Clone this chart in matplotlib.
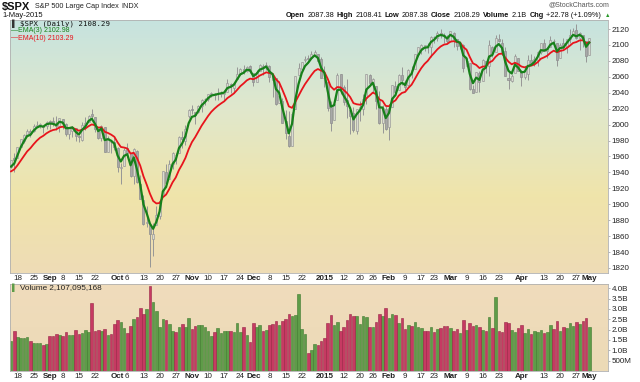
import numpy as np
import pandas as pd
import matplotlib
matplotlib.use("Agg")
import matplotlib.pyplot as plt
from matplotlib.colors import LinearSegmentedColormap

# closes before the window, only used to seed the moving averages
warmup_close = [1978.91, 1969.95, 1970.07, 1930.67, 1925.15, 1938.99, 1920.21,
                1920.24, 1909.57, 1931.59, 1936.92, 1933.75, 1946.72]

holidays = ["2014-09-01", "2014-11-27", "2014-12-25", "2015-01-01",
            "2015-01-19", "2015-02-16", "2015-04-03"]

price_open = [
    1947, 1958, 1958, 1972, 1980, 1986, 1992, 1992, 1998, 2000, 1998, 1998,
    2004, 2004, 2001, 1998, 2007, 2001, 1988, 1992, 1996, 1986, 1981, 1999,
    2003, 2013, 2009, 1993, 1983, 1997, 1966, 1978, 1978, 1971, 1945, 1948,
    1970, 1964, 1935, 1967, 1926, 1905, 1877, 1874, 1856, 1874, 1885, 1910,
    1941, 1932, 1951, 1962, 1964, 1984, 1979, 2011, 2019, 2016, 2016, 2023,
    2032, 2032, 2039, 2037, 2040, 2039, 2039, 2041, 2051, 2046, 2057, 2065,
    2070, 2067, 2073, 2065, 2054, 2067, 2074, 2072, 2074, 2056, 2058, 2027,
    2030, 2005, 1986, 1973, 2019, 2062, 2070, 2081, 2083, 2084, 2087, 2088,
    2082, 2059, 2054, 2022, 2006, 2031, 2063, 2047, 2031, 2018, 2014, 1992,
    2021, 2020, 2034, 2062, 2051, 2048, 2032, 2002, 2019, 1997, 2022, 2048,
    2043, 2062, 2053, 2050, 2068, 2070, 2089, 2096, 2099, 2098, 2097, 2110,
    2109, 2115, 2113, 2110, 2105, 2115, 2107, 2099, 2100, 2073, 2077, 2045,
    2041, 2065, 2055, 2080, 2073, 2098, 2091, 2108, 2103, 2093, 2059, 2055,
    2065, 2084, 2067, 2060, 2064, 2081, 2077, 2081, 2091, 2102, 2092, 2097,
    2105, 2102, 2084, 2102, 2098, 2108, 2113, 2119, 2109, 2113, 2105, 2087.38]
price_high = [
    1955, 1964, 1972, 1982, 1988, 1994, 1994, 2001, 2005, 2002, 1998, 2004,
    2006, 2009, 2011, 2008, 2007, 2002, 1996, 1998, 1996, 1987, 2003, 2010,
    2012, 2019, 2009, 1995, 1999, 1997, 1986, 1981, 1985, 1972, 1952, 1971,
    1977, 1964, 1970, 1968, 1937, 1912, 1898, 1874, 1876, 1898, 1905, 1942,
    1950, 1956, 1965, 1964, 1986, 1992, 1999, 2019, 2025, 2016, 2024, 2032,
    2034, 2038, 2041, 2040, 2046, 2042, 2043, 2057, 2052, 2053, 2072, 2071,
    2075, 2073, 2075, 2065, 2068, 2076, 2076, 2078, 2075, 2060, 2058, 2055,
    2034, 2018, 2017, 2016, 2061, 2077, 2078, 2086, 2087, 2093, 2094, 2088,
    2085, 2073, 2054, 2030, 2030, 2065, 2064, 2050, 2057, 2018, 2022, 2020,
    2029, 2038, 2064, 2063, 2058, 2048, 2042, 2024, 2023, 2023, 2050, 2055,
    2063, 2072, 2056, 2070, 2073, 2089, 2097, 2101, 2100, 2102, 2111, 2111,
    2117, 2120, 2115, 2112, 2118, 2116, 2107, 2104, 2101, 2083, 2077, 2050,
    2066, 2067, 2082, 2080, 2106, 2099, 2113, 2114, 2108, 2097, 2067, 2063,
    2088, 2084, 2068, 2072, 2087, 2089, 2086, 2093, 2102, 2108, 2098, 2111,
    2107, 2102, 2103, 2109, 2108, 2120, 2121, 2126, 2116, 2113, 2105, 2108.41]
price_low = [
    1945, 1941, 1958, 1972, 1977, 1986, 1985, 1991, 1998, 1996, 1990, 1994,
    1995, 1998, 1993, 1991, 1995, 1986, 1982, 1985, 1980, 1978, 1979, 1993,
    2003, 2007, 1991, 1982, 1979, 1966, 1966, 1964, 1968, 1941, 1926, 1948,
    1959, 1934, 1926, 1927, 1906, 1874, 1871, 1821, 1835, 1874, 1882, 1910,
    1927, 1932, 1944, 1951, 1964, 1971, 1974, 2008, 2013, 2001, 2014, 2016,
    2025, 2030, 2035, 2031, 2031, 2035, 2030, 2041, 2040, 2040, 2057, 2065,
    2064, 2066, 2065, 2049, 2054, 2067, 2062, 2069, 2054, 2035, 2024, 2027,
    2002, 1982, 1972, 1973, 2019, 2062, 2070, 2079, 2081, 2084, 2086, 2079,
    2058, 2047, 2017, 1992, 2006, 2031, 2038, 2024, 2008, 1988, 1991, 1988,
    2004, 2012, 2026, 2051, 2041, 2020, 2001, 1990, 1993, 1981, 2022, 2040,
    2043, 2050, 2044, 2048, 2058, 2070, 2086, 2089, 2093, 2090, 2085, 2102,
    2105, 2109, 2103, 2103, 2104, 2098, 2094, 2095, 2066, 2072, 2044, 2040,
    2041, 2041, 2055, 2065, 2061, 2085, 2091, 2104, 2091, 2061, 2045, 2053,
    2065, 2067, 2048, 2057, 2056, 2076, 2074, 2074, 2089, 2092, 2084, 2097,
    2101, 2073, 2084, 2095, 2090, 2103, 2112, 2107, 2094, 2098, 2078, 2087.38]
price_close = [
    1955.18, 1955.06, 1971.74, 1981.60, 1986.51, 1992.37, 1988.40, 1997.92,
    2000.02, 2000.12, 1996.74, 2003.37, 2002.28, 2000.72, 1997.65, 2007.71,
    2001.54, 1988.44, 1995.69, 1997.45, 1985.54, 1984.13, 1998.98, 2001.57,
    2011.36, 2010.40, 1994.29, 1982.77, 1998.30, 1965.99, 1982.85, 1977.80,
    1972.29, 1946.16, 1946.17, 1967.90, 1964.82, 1935.10, 1968.89, 1928.21,
    1906.13, 1874.74, 1877.70, 1862.49, 1862.76, 1886.76, 1904.01, 1941.28,
    1927.11, 1950.82, 1964.58, 1961.63, 1985.05, 1982.30, 1994.65, 2018.05,
    2017.81, 2012.10, 2023.57, 2031.21, 2031.92, 2038.26, 2039.68, 2038.25,
    2039.33, 2039.82, 2041.32, 2051.80, 2048.72, 2052.75, 2063.50, 2069.41,
    2067.03, 2072.83, 2067.56, 2053.44, 2066.55, 2074.33, 2071.92, 2075.37,
    2060.31, 2059.82, 2026.14, 2035.33, 2002.33, 1989.63, 1972.74, 2012.89,
    2061.23, 2070.65, 2078.54, 2082.17, 2081.88, 2088.77, 2090.57, 2080.35,
    2058.90, 2058.20, 2020.58, 2002.61, 2025.90, 2062.14, 2044.81, 2028.26,
    2023.03, 2011.27, 1992.67, 2019.42, 2022.55, 2032.12, 2063.15, 2051.82,
    2057.09, 2029.55, 2002.16, 2021.25, 1994.99, 2020.85, 2050.03, 2041.51,
    2062.52, 2055.47, 2046.74, 2068.59, 2068.53, 2088.48, 2096.99, 2100.34,
    2099.68, 2097.45, 2110.30, 2109.66, 2115.48, 2113.86, 2110.74, 2104.50,
    2117.39, 2107.78, 2098.53, 2101.04, 2071.26, 2079.43, 2044.16, 2040.24,
    2065.95, 2053.40, 2081.19, 2074.28, 2099.50, 2089.27, 2108.10, 2104.42,
    2091.50, 2061.05, 2056.15, 2061.02, 2086.24, 2067.89, 2059.69, 2066.96,
    2080.62, 2076.33, 2081.90, 2091.18, 2102.06, 2092.43, 2095.84, 2106.63,
    2104.99, 2081.18, 2100.40, 2097.29, 2107.96, 2112.93, 2117.69, 2108.92,
    2114.76, 2106.85, 2085.51, 2108.29]

# volume in billions of shares
volume_b = [
    1.47, 1.95, 1.66, 1.58, 1.58, 1.66, 1.47, 1.34, 1.37, 1.37, 1.26, 1.32,
    1.69, 1.69, 1.81, 1.76, 1.71, 1.90, 1.74, 1.73, 2.00, 1.77, 1.84, 2.00,
    1.90, 3.27, 1.95, 2.00, 1.95, 2.03, 1.76, 1.79, 2.29, 2.45, 2.35, 2.06,
    1.85, 2.16, 2.50, 2.60, 3.03, 2.74, 3.00, 4.10, 3.33, 2.92, 2.11, 2.50,
    2.44, 2.26, 1.95, 1.87, 2.13, 2.26, 2.11, 2.55, 2.02, 2.16, 2.21, 2.21,
    2.13, 1.92, 1.68, 1.87, 2.06, 1.82, 1.95, 1.92, 1.95, 1.87, 2.32, 1.87,
    2.11, 1.76, 1.42, 2.32, 2.11, 2.23, 1.94, 2.00, 2.21, 2.29, 2.40, 2.21,
    2.40, 2.50, 2.73, 2.66, 2.69, 3.71, 2.02, 1.79, 0.87, 1.00, 1.32, 1.26,
    1.44, 1.58, 2.32, 2.69, 2.23, 2.35, 1.95, 2.11, 2.48, 2.76, 2.66, 2.66,
    2.27, 2.66, 2.60, 2.14, 2.14, 2.35, 2.73, 2.65, 3.03, 2.56, 2.73, 2.68,
    2.31, 2.55, 2.03, 2.24, 2.16, 2.35, 2.11, 2.06, 1.95, 1.95, 2.13, 1.87,
    2.03, 2.06, 2.16, 2.16, 2.06, 1.95, 2.02, 1.84, 2.48, 2.00, 2.31, 2.19,
    2.23, 2.13, 2.00, 1.92, 2.60, 2.06, 3.56, 1.95, 1.90, 2.35, 2.31, 1.97,
    1.87, 2.06, 2.23, 1.84, 2.03, 1.77, 1.92, 1.87, 2.00, 1.82, 1.87, 2.23,
    2.02, 2.39, 1.95, 2.11, 2.06, 2.32, 2.16, 2.35, 2.26, 2.40, 2.58, 2.11]

tick_dates = ["2014-08-18", "2014-08-25", "2014-09-02", "2014-09-08", "2014-09-15",
              "2014-09-22", "2014-10-01", "2014-10-06", "2014-10-13", "2014-10-20",
              "2014-10-27", "2014-11-03", "2014-11-10", "2014-11-17", "2014-11-24",
              "2014-12-01", "2014-12-08", "2014-12-15", "2014-12-22", "2015-01-02",
              "2015-01-12", "2015-01-20", "2015-01-26", "2015-02-02", "2015-02-09",
              "2015-02-17", "2015-02-23", "2015-03-02", "2015-03-09", "2015-03-16",
              "2015-03-23", "2015-04-01", "2015-04-13", "2015-04-20", "2015-04-27",
              "2015-05-01"]
tick_labels = ["18", "25", "Sep", "8", "15", "22", "Oct", "6", "13", "20", "27",
               "Nov", "10", "17", "24", "Dec", "8", "15", "22", "2015", "12", "20",
               "26", "Feb", "9", "17", "23", "Mar", "9", "16", "23", "Apr", "13",
               "20", "27", "May"]
bold_labels = {"Sep", "Oct", "Nov", "Dec", "2015", "Feb", "Mar", "Apr", "May"}

price_ticks = list(range(1820, 2121, 20))
vol_ticks = [0.5, 1.0, 1.5, 2.0, 2.5, 3.0, 3.5, 4.0]
vol_tick_labels = ["500M", "1.0B", "1.5B", "2.0B", "2.5B", "3.0B", "3.5B", "4.0B"]

dates = pd.bdate_range("2014-08-14", "2015-05-01")
dates = dates[~dates.isin(pd.to_datetime(holidays))]
date_pos = {d.strftime("%Y-%m-%d"): i for i, d in enumerate(dates)}
x = np.arange(len(dates))

full = pd.Series(warmup_close + price_close)
n0 = len(warmup_close)
ema3 = full.ewm(span=3, adjust=False).mean().values[n0:]
ema10 = full.ewm(span=10, adjust=False).mean().values[n0:]

o = np.array(price_open, float)
h = np.array(price_high, float)
l = np.array(price_low, float)
c = np.array(price_close, float)
v = np.array(volume_b)
prev = np.concatenate([[warmup_close[-1]], c[:-1]])

W, H = 640, 382
fig = plt.figure(figsize=(6.4, 3.82), dpi=100)
fig.patch.set_facecolor("white")
plt.rcParams["font.family"] = ["Liberation Sans", "DejaVu Sans"]

def fx(px):
    return px / W

def fy(py):
    return 1 - py / H

ax = fig.add_axes([fx(10), fy(273), fx(598), (273 - 20) / H])
ax2 = fig.add_axes([fx(10), fy(371), fx(598), (371 - 284) / H])

xlim = (-0.31, 184.8)
ylim = (1813.7, 2131.3)
vlim = (0, 4.2)

grad = np.linspace(0, 1, 256).reshape(-1, 1)
cm_main = LinearSegmentedColormap.from_list(
    "main", [(0, "#c6e3df"), (0.35, "#e0e8cc"), (0.7, "#f0e4aa"), (1, "#eedcb6")])
cm_vol = LinearSegmentedColormap.from_list("vol", ["#f0dcbc", "#ecdab6"])
ax.imshow(grad, extent=[xlim[0], xlim[1], ylim[0], ylim[1]], aspect="auto",
          cmap=cm_main, zorder=0)
ax2.imshow(grad, extent=[xlim[0], xlim[1], vlim[0], vlim[1]], aspect="auto",
           cmap=cm_vol, zorder=0)

# candles, faded behind the averages
up = c >= o
ax.vlines(x, l, h, color="#969696", lw=0.7, zorder=2)
ax.bar(x[up], (c - o)[up], bottom=o[up], width=0.62, facecolor="#ebebe0",
       edgecolor="#969696", lw=0.6, zorder=3, alpha=0.8)
ax.bar(x[~up], (o - c)[~up], bottom=c[~up], width=0.62, facecolor="#aaaaaa",
       edgecolor="#909090", lw=0.6, zorder=3, alpha=0.9)

ax.plot(x, ema10, color="#e8141c", lw=1.3, zorder=4)
ax.plot(x, ema3, color="#17801a", lw=1.6, zorder=5)

vup = c >= prev
ax2.bar(x[vup], v[vup], width=0.8, color="#5e9c48", edgecolor="#3f7a30", lw=0.4, zorder=2)
ax2.bar(x[~vup], v[~vup], width=0.8, color="#c63a62", edgecolor="#982446", lw=0.4, zorder=2)

tpos = [date_pos[d] for d in tick_dates]
for a, lim in ((ax, ylim), (ax2, vlim)):
    a.set_xlim(*xlim)
    a.set_ylim(*lim)
    a.set_xticks(tpos)
    a.set_xticklabels(tick_labels)
    for t in a.get_xticklabels():
        if t.get_text() in bold_labels:
            t.set_fontweight("bold")
    a.yaxis.tick_right()
    a.tick_params(axis="both", labelsize=5.8, length=1.5, width=0.5, color="#999999",
                  labelcolor="#222222", pad=1.2)
    a.tick_params(axis="x", pad=0.6, length=1)
    for s in a.spines.values():
        s.set_color("#b0b0b0")
        s.set_linewidth(0.6)
    a.spines["right"].set_linestyle((0, (1, 1)))

ax.set_yticks(price_ticks)
ax2.set_yticks(vol_ticks)
ax2.set_yticklabels(vol_tick_labels)

def put(px, py, s, **kw):
    kw.setdefault("va", "center")
    return fig.text(fx(px), fy(py), s, **kw)

fig.canvas.draw()
r = fig.canvas.get_renderer()

put(2, 7, "$SPX", fontsize=8, fontweight="bold", color="#111111")
t = put(35, 7, "S&P 500 Large Cap Index", fontsize=5.2, color="#222222")
put(35 + t.get_window_extent(r).width + 3, 7, "INDX", fontsize=5.2, color="#222222")
put(2, 15.5, "1-May-2015", fontsize=5.5, color="#111111")
put(609, 4.5, "@StockCharts.com", fontsize=5, color="#555555", ha="right")

put(20, 24, "$SPX (Daily) 2108.29", fontsize=5.3, family="DejaVu Sans Mono", color="#111111")
put(12, 24, "\u258c", fontsize=5, color="#333333")
put(11, 31, "\u2014", fontsize=5, color="#17801a")
put(18, 31, "EMA(3) 2102.98", fontsize=5, color="#17801a")
put(11, 38, "\u2014", fontsize=5, color="#e8141c")
put(18, 38, "EMA(10) 2103.29", fontsize=5, color="#e8141c")
put(12, 288, "\u258c", fontsize=5, color="#5e9c48")
put(20, 288, "Volume 2,107,095,168", fontsize=5.9, color="#222222")

# right side quote line, laid out piece by piece and ending near x=608
parts = [("Open", True), ("2087.38", False), ("High", True), ("2108.41", False),
         ("Low", True), ("2087.38", False), ("Close", True), ("2108.29", False),
         ("Volume", True), ("2.1B", False), ("Chg", True), ("+22.78 (+1.09%)", False)]
texts = []
for s, b in parts:
    texts.append(put(0, 15.5, s, fontsize=5.3, fontweight="bold" if b else "normal",
                     color="#111111"))
gap = 2.5
widths = [t.get_window_extent(r).width for t in texts]
xp = 601 - sum(widths) - gap * (len(widths) - 1)
for t, w in zip(texts, widths):
    t.set_x(fx(xp))
    xp += w + gap
put(xp + 1, 15.5, "\u25b2", fontsize=4, color="#2a9a2a")

fig.savefig("out.png", dpi=100)
